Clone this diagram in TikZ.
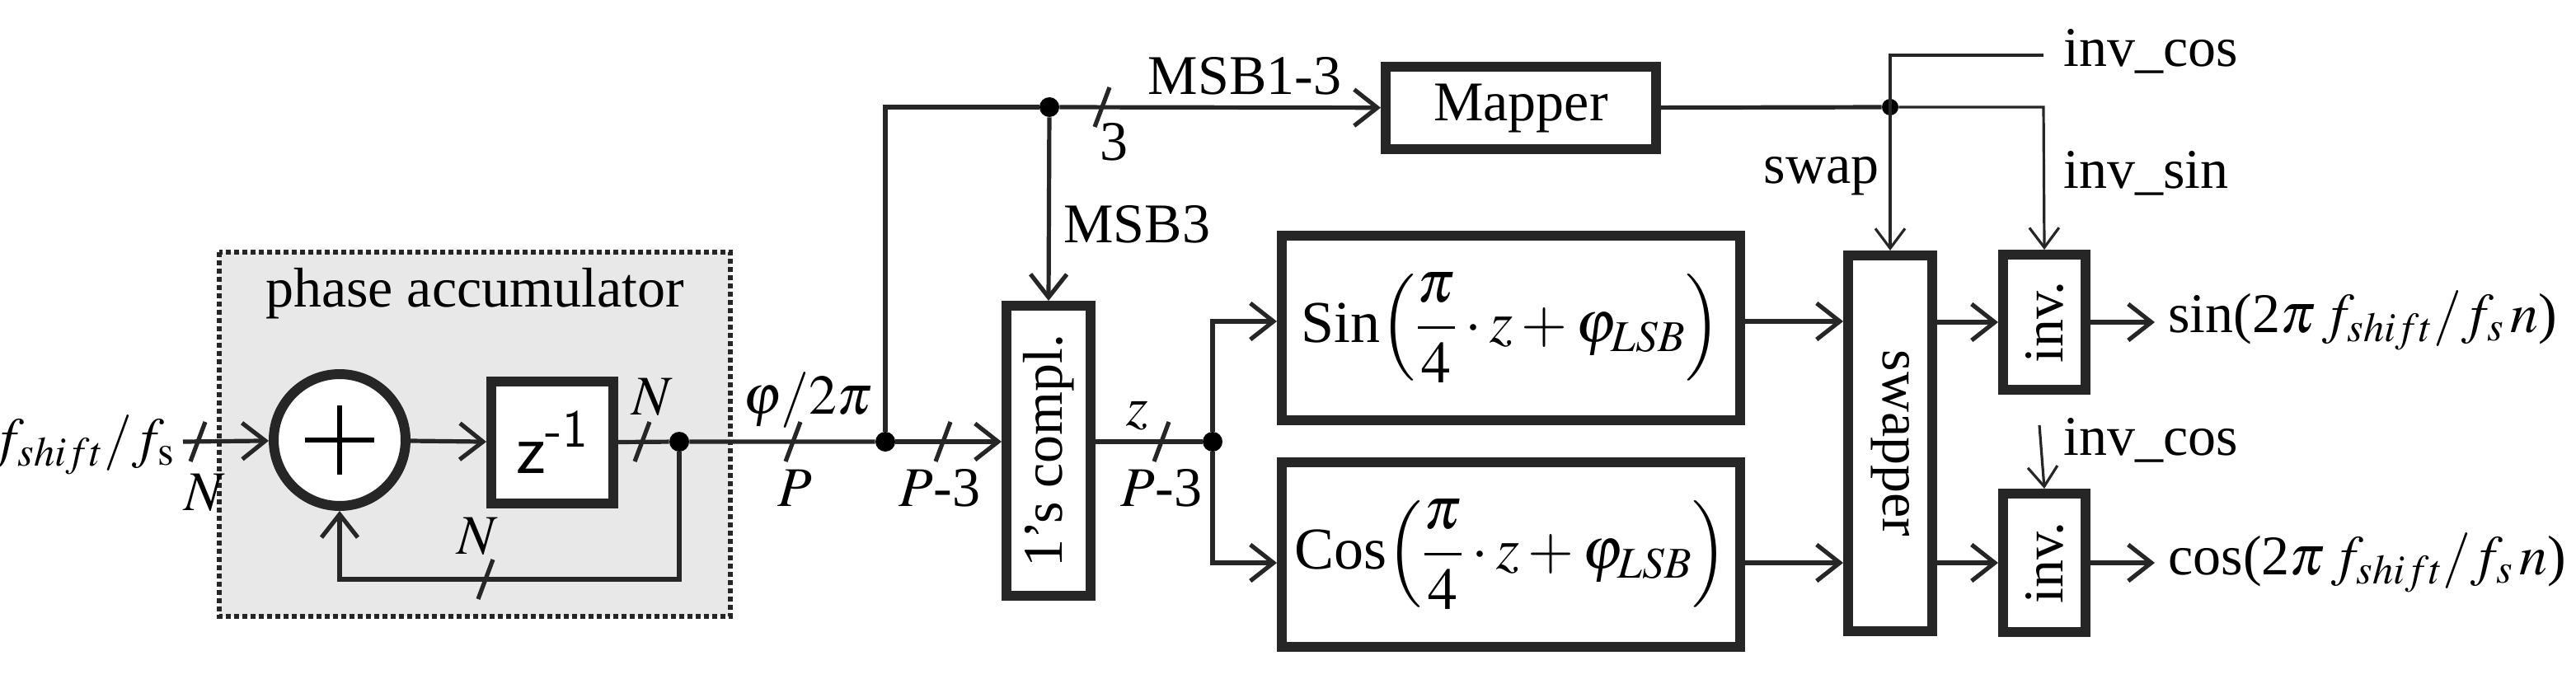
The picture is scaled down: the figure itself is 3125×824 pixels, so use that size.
\documentclass[tikz,border=0pt]{standalone}
\usepackage{mathptmx}
\usepackage[no-math]{fontspec}
\setmainfont{Liberation Serif}
\usetikzlibrary{arrows.meta}
\tikzset{
  blk/.style={draw=black!85, line width=6pt, fill=white, inner sep=0pt},
  sig/.style={line width=2.6pt, draw=black!85, -{Straight Barb[length=14pt,width=22pt,line width=2.6pt]}},
  wire/.style={line width=2.6pt, draw=black!85},
  thin/.style={line width=1.6pt, draw=black!85},
  tsig/.style={thin, -{Straight Barb[length=12pt,width=18pt,line width=1.6pt]}},
  dot/.style={circle, fill=black, inner sep=0pt, minimum size=12pt},
  lbl/.style={inner sep=0pt, font=\fontsize{34}{38}\selectfont},
}
% bus slash with its width label
\newcommand\busmark[3]{\draw[wire] ([shift={(-9,24)}]#1) -- ([shift={(9,-24)}]#1);
  \node[lbl] at ([shift={#2}]#1) {#3};}
\begin{document}
\begin{tikzpicture}[x=0.5pt,y=-0.5pt]
  \useasboundingbox (0,0) rectangle (3125,824);
  %phase accumulator
  \fill[gray!18] (266,306) rectangle (886,748);
  \draw[line width=3pt, dotted, black!85] (266,306) rectangle (886,748);
  \node[lbl] at (576,356) {phase accumulator};
  \node[circle, draw=black!85, line width=6pt, fill=white, minimum size=80pt, inner sep=0pt] (sum) at (412,534) {};
  \draw[line width=3pt] (sum.center) ++(-42,0) -- ++(84,0) (sum.center) ++(0,-42) -- ++(0,84);
  \node[blk, minimum width=74pt, minimum height=74pt, font=\fontsize{44}{48}\sffamily] (zinv) at (670,537) {z\textsuperscript{-1}};
  \node[blk, minimum width=51pt, minimum height=176pt] (compl) at (1272,547) {};
  \node[lbl, rotate=90] at (compl) {1's compl.};
  \node[blk, minimum width=164pt, minimum height=50pt] (mapper) at (1845,131) {};
  \node[lbl] at (mapper) {Mapper};
  \node[blk, minimum width=278pt, minimum height=112pt, font=\fontsize{36}{40}\selectfont] (sinb) at (1833,398)
    {Sin$\displaystyle\left(\frac{\pi}{4}\cdot z+\varphi_{LSB}\right)$};
  \node[blk, minimum width=278pt, minimum height=112pt, font=\fontsize{36}{40}\selectfont] (cosb) at (1833,673)
    {Cos$\displaystyle\left(\frac{\pi}{4}\cdot z+\varphi_{LSB}\right)$};
  \node[blk, minimum width=51pt, minimum height=228pt] (swapper) at (2293,538) {};
  \node[lbl, rotate=-90] at (swapper) {swapper};
  \node[blk, minimum width=50pt, minimum height=82pt] (invs) at (2480,391) {};
  \node[lbl, rotate=90] at (invs) {inv.};
  \node[blk, minimum width=50pt, minimum height=84pt] (invc) at (2480,683) {};
  \node[lbl, rotate=90] at (invc) {inv.};
  % junctions and ends
  \coordinate (in) at (222,536);
  \node[dot] (j1) at (824,536) {};
  \node[dot] (j2) at (1074,536) {};
  \node[dot] (j3) at (1273,130) {};
  \node[dot] (j4) at (1471,536) {};
  \node[dot, minimum size=10pt] (j5) at (2293,130) {};
  \coordinate (fb) at (824,703);
  \coordinate (tl) at (1074,130);
  \coordinate (ic) at (2479,67);
  \coordinate (icl) at (2293,67);
  \coordinate (is) at (2479,130);
  \coordinate (ic2) at (2474,516);
  \coordinate (os) at (2614,391);
  \coordinate (oc) at (2614,683);
  % connectors
  \draw[sig] (in) -- (sum);
  \draw[sig] (sum) -- (zinv);
  \draw[wire] (zinv) -- (j1) -- (j2);
  \draw[sig] (j1) -- (fb) -| (sum);
  \draw[sig] (j2) -- (compl.west |- j2);
  \draw[wire] (j2) -- (tl) -- (j3);
  \draw[sig] (j3) -- (mapper);
  \draw[sig] (j3) -- (compl.north);
  \draw[wire] (compl.east |- j4) -- (j4);
  \draw[sig] (j4) |- (sinb.west |- 0,390);
  \draw[sig] (j4) |- (cosb.west |- 0,683);
  \draw[sig] (sinb.east |- 0,390) -- (swapper.west |- 0,390);
  \draw[sig] (cosb.east |- 0,683) -- (swapper.west |- 0,683);
  \draw[sig] (swapper.east |- invs) -- (invs);
  \draw[sig] (swapper.east |- 0,683) -- (invc);
  \draw[sig] (invs) -- (os);
  \draw[sig] (invc) -- (oc);
  \draw[wire] (mapper) -- (j5);
  \draw[tsig] (j5) -- (is) -- (invs.north);
  \draw[tsig] (ic) -- (icl) -- (swapper.north);
  \draw[tsig] (ic2) -- (invc.north);
  % bus marks
  \busmark{240,536}{(8,62)}{$N$}
  \busmark{779,536}{(12,-54)}{$N$}
  \busmark{589,703}{(-10,-52)}{$N$}
  \busmark{962,536}{(2,56)}{$P$}
  \busmark{1144,536}{(-4,56)}{$P$-3}
  \busmark{1409,536}{(0,56)}{$P$-3}
  \busmark{1337,130}{(14,42)}{3}
  % labels
  \node[lbl, anchor=east] at (212,540) {$f_{shift}/f_\mathrm{s}$};
  \node[lbl] at (980,486) {$\varphi/2\pi$};
  \node[lbl] at (1380,504) {$z$};
  \node[lbl] at (1510,92) {MSB1-3};
  \node[lbl, anchor=west] at (1290,272) {MSB3};
  \node[lbl, anchor=east] at (2280,214) {swap};
  \node[lbl, anchor=west] at (2503,62) {inv\_cos};
  \node[lbl, anchor=west] at (2503,210) {inv\_sin};
  \node[lbl, anchor=west] at (2503,534) {inv\_cos};
  \node[lbl, anchor=west] at (2630,389) {sin(2$\pi\,f_{shift}/f_s\,n$)};
  \node[lbl, anchor=west] at (2630,683) {cos(2$\pi\,f_{shift}/f_s\,n$)};
\end{tikzpicture}
\end{document}
